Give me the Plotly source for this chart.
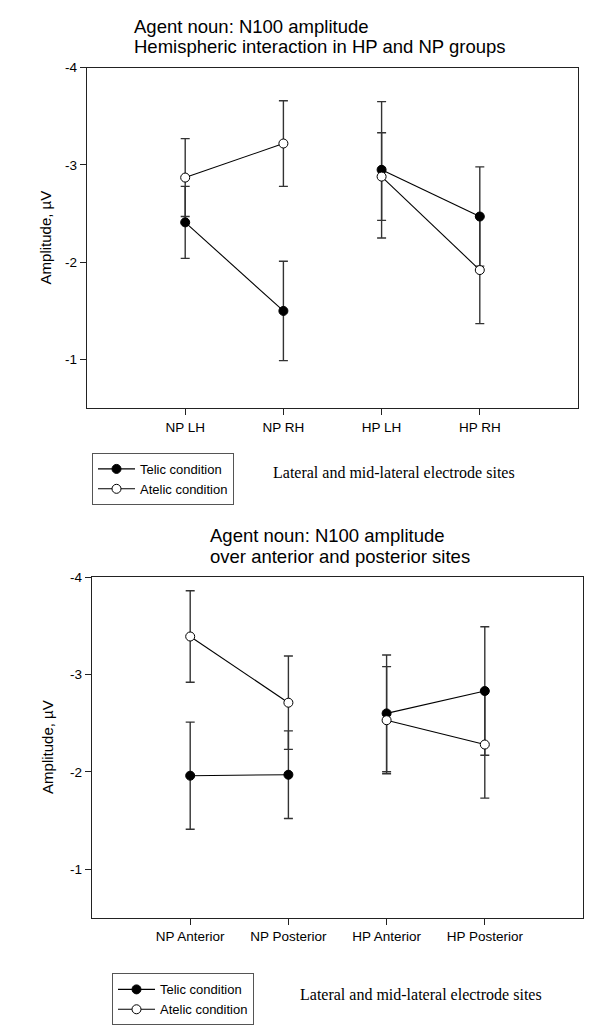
import plotly.graph_objects as go

W, H = 602, 1036

# top panel: hemispheric interaction
top_sites = ["NP LH", "NP RH", "HP LH", "HP RH"]
top_telic = [-2.41, -1.50, -2.95, -2.47]
top_telic_err = [0.37, 0.51, 0.70, 0.51]
top_atelic = [-2.87, -3.22, -2.88, -1.92]
top_atelic_err = [0.40, 0.44, 0.45, 0.55]

# bottom panel: anterior vs posterior
bot_sites = ["NP Anterior", "NP Posterior", "HP Anterior", "HP Posterior"]
bot_telic = [-1.96, -1.97, -2.60, -2.83]
bot_telic_err = [0.55, 0.45, 0.60, 0.66]
bot_atelic = [-3.39, -2.71, -2.53, -2.28]
bot_atelic_err = [0.47, 0.48, 0.55, 0.55]

y_ticks = [-4, -3, -2, -1]
y_ticklabels = ["-4", "-3", "-2", "-1"]

SANS = "Liberation Sans, Arial, sans-serif"
SERIF = "Liberation Serif, Times New Roman, serif"


def px_x(p):
    return p / W


def px_y(p):
    return 1 - p / H


fig = go.Figure()

panels = [
    ("x", "y", "legend", top_sites, top_telic, top_telic_err, top_atelic, top_atelic_err),
    ("x2", "y2", "legend2", bot_sites, bot_telic, bot_telic_err, bot_atelic, bot_atelic_err),
]

for xa, ya, lg, sites, telic, telic_err, atelic, atelic_err in panels:
    conds = [
        ("Telic condition", telic, telic_err, "black"),
        ("Atelic condition", atelic, atelic_err, "white"),
    ]
    # error bars first, so markers sit on top
    for name, vals, errs, fill in conds:
        fig.add_trace(go.Scatter(
            x=sites, y=vals, mode="markers", xaxis=xa, yaxis=ya,
            marker=dict(size=1, color="rgba(0,0,0,0)"),
            error_y=dict(type="data", array=errs, visible=True,
                         color="#333333", thickness=1.4, width=4.5),
            showlegend=False, hoverinfo="skip"))
    for name, vals, errs, fill in conds:
        for k, seg in enumerate([slice(0, 2), slice(2, 4)]):
            fig.add_trace(go.Scatter(
                x=sites[seg], y=vals[seg], mode="lines+markers",
                xaxis=xa, yaxis=ya, legend=lg, name=name,
                showlegend=(k == 0),
                line=dict(color="black", width=1.1),
                marker=dict(size=9, color=fill, symbol="circle",
                            line=dict(color="black", width=1))))

axis_common = dict(showline=True, linecolor="#222222", linewidth=1.4, mirror=True,
                   ticks="outside", ticklen=6, tickcolor="#222222", tickwidth=1,
                   showgrid=False, zeroline=False,
                   tickfont=dict(family=SANS, size=13.5, color="black"))

legend_common = dict(xanchor="left", yanchor="top", bordercolor="#555555",
                     borderwidth=1, bgcolor="white", itemwidth=37, tracegroupgap=0,
                     font=dict(family=SANS, size=13, color="black"))

fig.update_layout(
    width=W, height=H, margin=dict(l=0, r=0, t=0, b=0),
    paper_bgcolor="white", plot_bgcolor="white",
    xaxis=dict(axis_common, domain=[px_x(87), px_x(578)], anchor="y",
               type="category", categoryorder="array", categoryarray=top_sites,
               range=[-1, 4]),
    yaxis=dict(axis_common, domain=[px_y(404), px_y(61)], anchor="x",
               range=[-0.5, -4], tickvals=y_ticks, ticktext=y_ticklabels),
    xaxis2=dict(axis_common, domain=[px_x(92), px_x(583)], anchor="y2",
                type="category", categoryorder="array", categoryarray=bot_sites,
                range=[-1, 4]),
    yaxis2=dict(axis_common, domain=[px_y(917), px_y(574)], anchor="x2",
                range=[-0.5, -4], tickvals=y_ticks, ticktext=y_ticklabels),
    legend=dict(legend_common, x=px_x(92), y=px_y(449)),
    legend2=dict(legend_common, x=px_x(112), y=px_y(973)),
    showlegend=True,
)

notes = [
    # titles
    (132, 20, "Agent noun: N100 amplitude", SANS, 18.5, "left", 0),
    (132, 40, "Hemispheric interaction in HP and NP groups", SANS, 18.5, "left", 0),
    (208, 532, "Agent noun: N100 amplitude", SANS, 18.5, "left", 0),
    (208, 553, "over anterior and posterior sites", SANS, 18.5, "left", 0),
    # y titles
    (45, 232, "Amplitude, µV", SANS, 15, "center", -90),
    (48, 745, "Amplitude, µV", SANS, 15, "center", -90),
    # side notes
    (271, 469, "Lateral and mid-lateral electrode sites", SERIF, 16, "left", 0),
    (298, 994, "Lateral and mid-lateral electrode sites", SERIF, 16, "left", 0),
]
for x, y, text, fam, size, anchor, ang in notes:
    fig.add_annotation(x=px_x(x), y=px_y(y), xref="paper", yref="paper",
                       text=text, showarrow=False, xanchor=anchor, yanchor="middle",
                       textangle=ang, font=dict(family=fam, size=size, color="black"))

fig.write_html("out.html", config={"displayModeBar": False},
               post_script="document.body.style.margin='0';")
